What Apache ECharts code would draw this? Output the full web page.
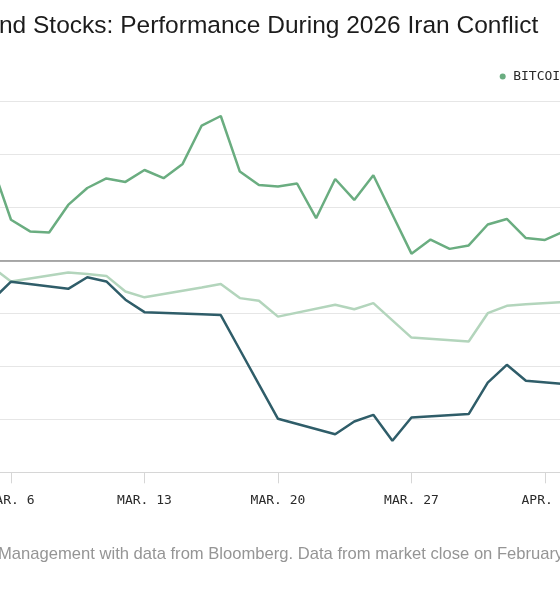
<!DOCTYPE html>
<html>
<head>
<meta charset="utf-8">
<script src="https://cdn.jsdelivr.net/npm/echarts@6/dist/echarts.min.js"></script>
<style>
  html, body { margin: 0; padding: 0; background: #ffffff; overflow: hidden; width: 560px; height: 600px; }
  #chart { position: absolute; left: -200px; top: 0; width: 1000px; height: 600px; }
</style>
</head>
<body>
<div id="chart"></div>
<script>
// Daily dates shown on the category axis
var categories = [
  'MAR. 5','MAR. 6','MAR. 7','MAR. 8','MAR. 9','MAR. 10','MAR. 11','MAR. 12','MAR. 13',
  'MAR. 14','MAR. 15','MAR. 16','MAR. 17','MAR. 18','MAR. 19','MAR. 20','MAR. 21',
  'MAR. 22','MAR. 23','MAR. 24','MAR. 25','MAR. 26','MAR. 27','MAR. 28','MAR. 29',
  'MAR. 30','MAR. 31','APR. 1','APR. 2','APR. 3','APR. 4','APR. 5','APR. 6'
];
var tickLabels = ['MAR. 6','MAR. 13','MAR. 20','MAR. 27','APR. 3'];

// Performance (%)
var bitcoin = [
  3.62, 1.54, 1.10, 1.06, 2.10, 2.74, 3.10, 2.97, 3.42,
  3.11, 3.65, 5.10, 5.46, 3.36, 2.85, 2.80, 2.91,
  1.60, 3.08, 2.29, 3.22, 1.74, 0.26, 0.79, 0.44,
  0.57, 1.36, 1.57, 0.85, 0.78, 1.10, null, null
];
var stocksLight = [
  -0.24, -0.79, null, null, -0.45, -0.51, -0.58, -1.17, -1.39,
  null, null, -1.02, -0.89, -1.42, -1.52, -2.12, null,
  null, -1.67, -1.84, -1.61, -2.26, -2.91, null, null,
  -3.06, -1.99, -1.71, -1.65, null, null, null, -1.48
];
var stocksDark = [
  -1.50, -0.80, null, null, -1.07, -0.63, -0.79, -1.48, -1.95,
  null, null, -2.03, -2.06, -3.37, -4.68, -5.98, null,
  null, -6.56, -6.08, -5.83, -6.81, -5.93, null, null,
  -5.80, -4.61, -3.94, -4.54, null, null, null, -4.79
];

var titleText = 'Bitcoin and Stocks: Performance During 2026 Iran Conflict';
var footerText = 'Management with data from Bloomberg. Data from market close on February';

var chart = echarts.init(document.getElementById('chart'), null, { renderer: 'canvas' });
var mono = '"DejaVu Sans Mono", "Liberation Mono", monospace';
var sans = '"Liberation Sans", "Noto Sans", sans-serif';

function isTick(idx, val) { return tickLabels.indexOf(categories[idx]) !== -1; }

chart.setOption({
  animation: false,
  backgroundColor: '#ffffff',
  title: [
    {
      text: titleText, left: 105, top: 14, padding: 0,
      textStyle: { fontFamily: sans, fontSize: 24.5, fontWeight: 'normal', color: '#1c1c1c' }
    },
    {
      text: footerText, left: 198, top: 546, padding: 0,
      textStyle: { fontFamily: sans, fontSize: 16.6, fontWeight: 'normal', color: '#959595' }
    }
  ],
  legend: {
    data: ['BITCOIN'],
    left: 699.7, top: 70, padding: 0,
    icon: 'circle', itemWidth: 6, itemHeight: 6,
    textStyle: { fontFamily: mono, fontSize: 13, color: '#2a2a2a', padding: [0, 0, 0, 2.5] }
  },
  grid: { left: 191.93, right: 197.83, top: 101.7, bottom: 127.7, containLabel: false },
  xAxis: {
    type: 'category',
    data: categories,
    boundaryGap: false,
    axisLine: { onZero: false, lineStyle: { color: '#d6d6d6', width: 1 } },
    axisTick: { show: true, interval: isTick, length: 11, lineStyle: { color: '#d6d6d6' } },
    axisLabel: { interval: isTick, margin: 22, fontFamily: mono, fontSize: 13, color: '#2a2a2a' },
    splitLine: { show: false }
  },
  yAxis: {
    type: 'value', min: -8, max: 6, interval: 2,
    axisLine: { show: false }, axisTick: { show: false },
    axisLabel: { formatter: '{value}%', fontFamily: mono, fontSize: 13, color: '#2a2a2a' },
    splitLine: { lineStyle: { color: '#e6e6e6', width: 1 } }
  },
  series: [
    {
      name: 'S&P 500', type: 'line', data: stocksLight, connectNulls: true,
      symbol: 'none', lineStyle: { color: '#b3d5bc', width: 2.5 }, itemStyle: { color: '#b3d5bc' }
    },
    {
      name: 'NASDAQ', type: 'line', data: stocksDark, connectNulls: true,
      symbol: 'none', lineStyle: { color: '#2f5d69', width: 2.5 }, itemStyle: { color: '#2f5d69' }
    },
    {
      name: 'BITCOIN', type: 'line', data: bitcoin, connectNulls: false,
      symbol: 'none', lineStyle: { color: '#6aad80', width: 2.5 }, itemStyle: { color: '#6aad80' },
      markLine: {
        silent: true, symbol: 'none', label: { show: false },
        lineStyle: { color: '#8f8f8f', width: 1.5, type: 'solid' },
        data: [{ yAxis: 0 }]
      }
    }
  ]
});
</script>
</body>
</html>
